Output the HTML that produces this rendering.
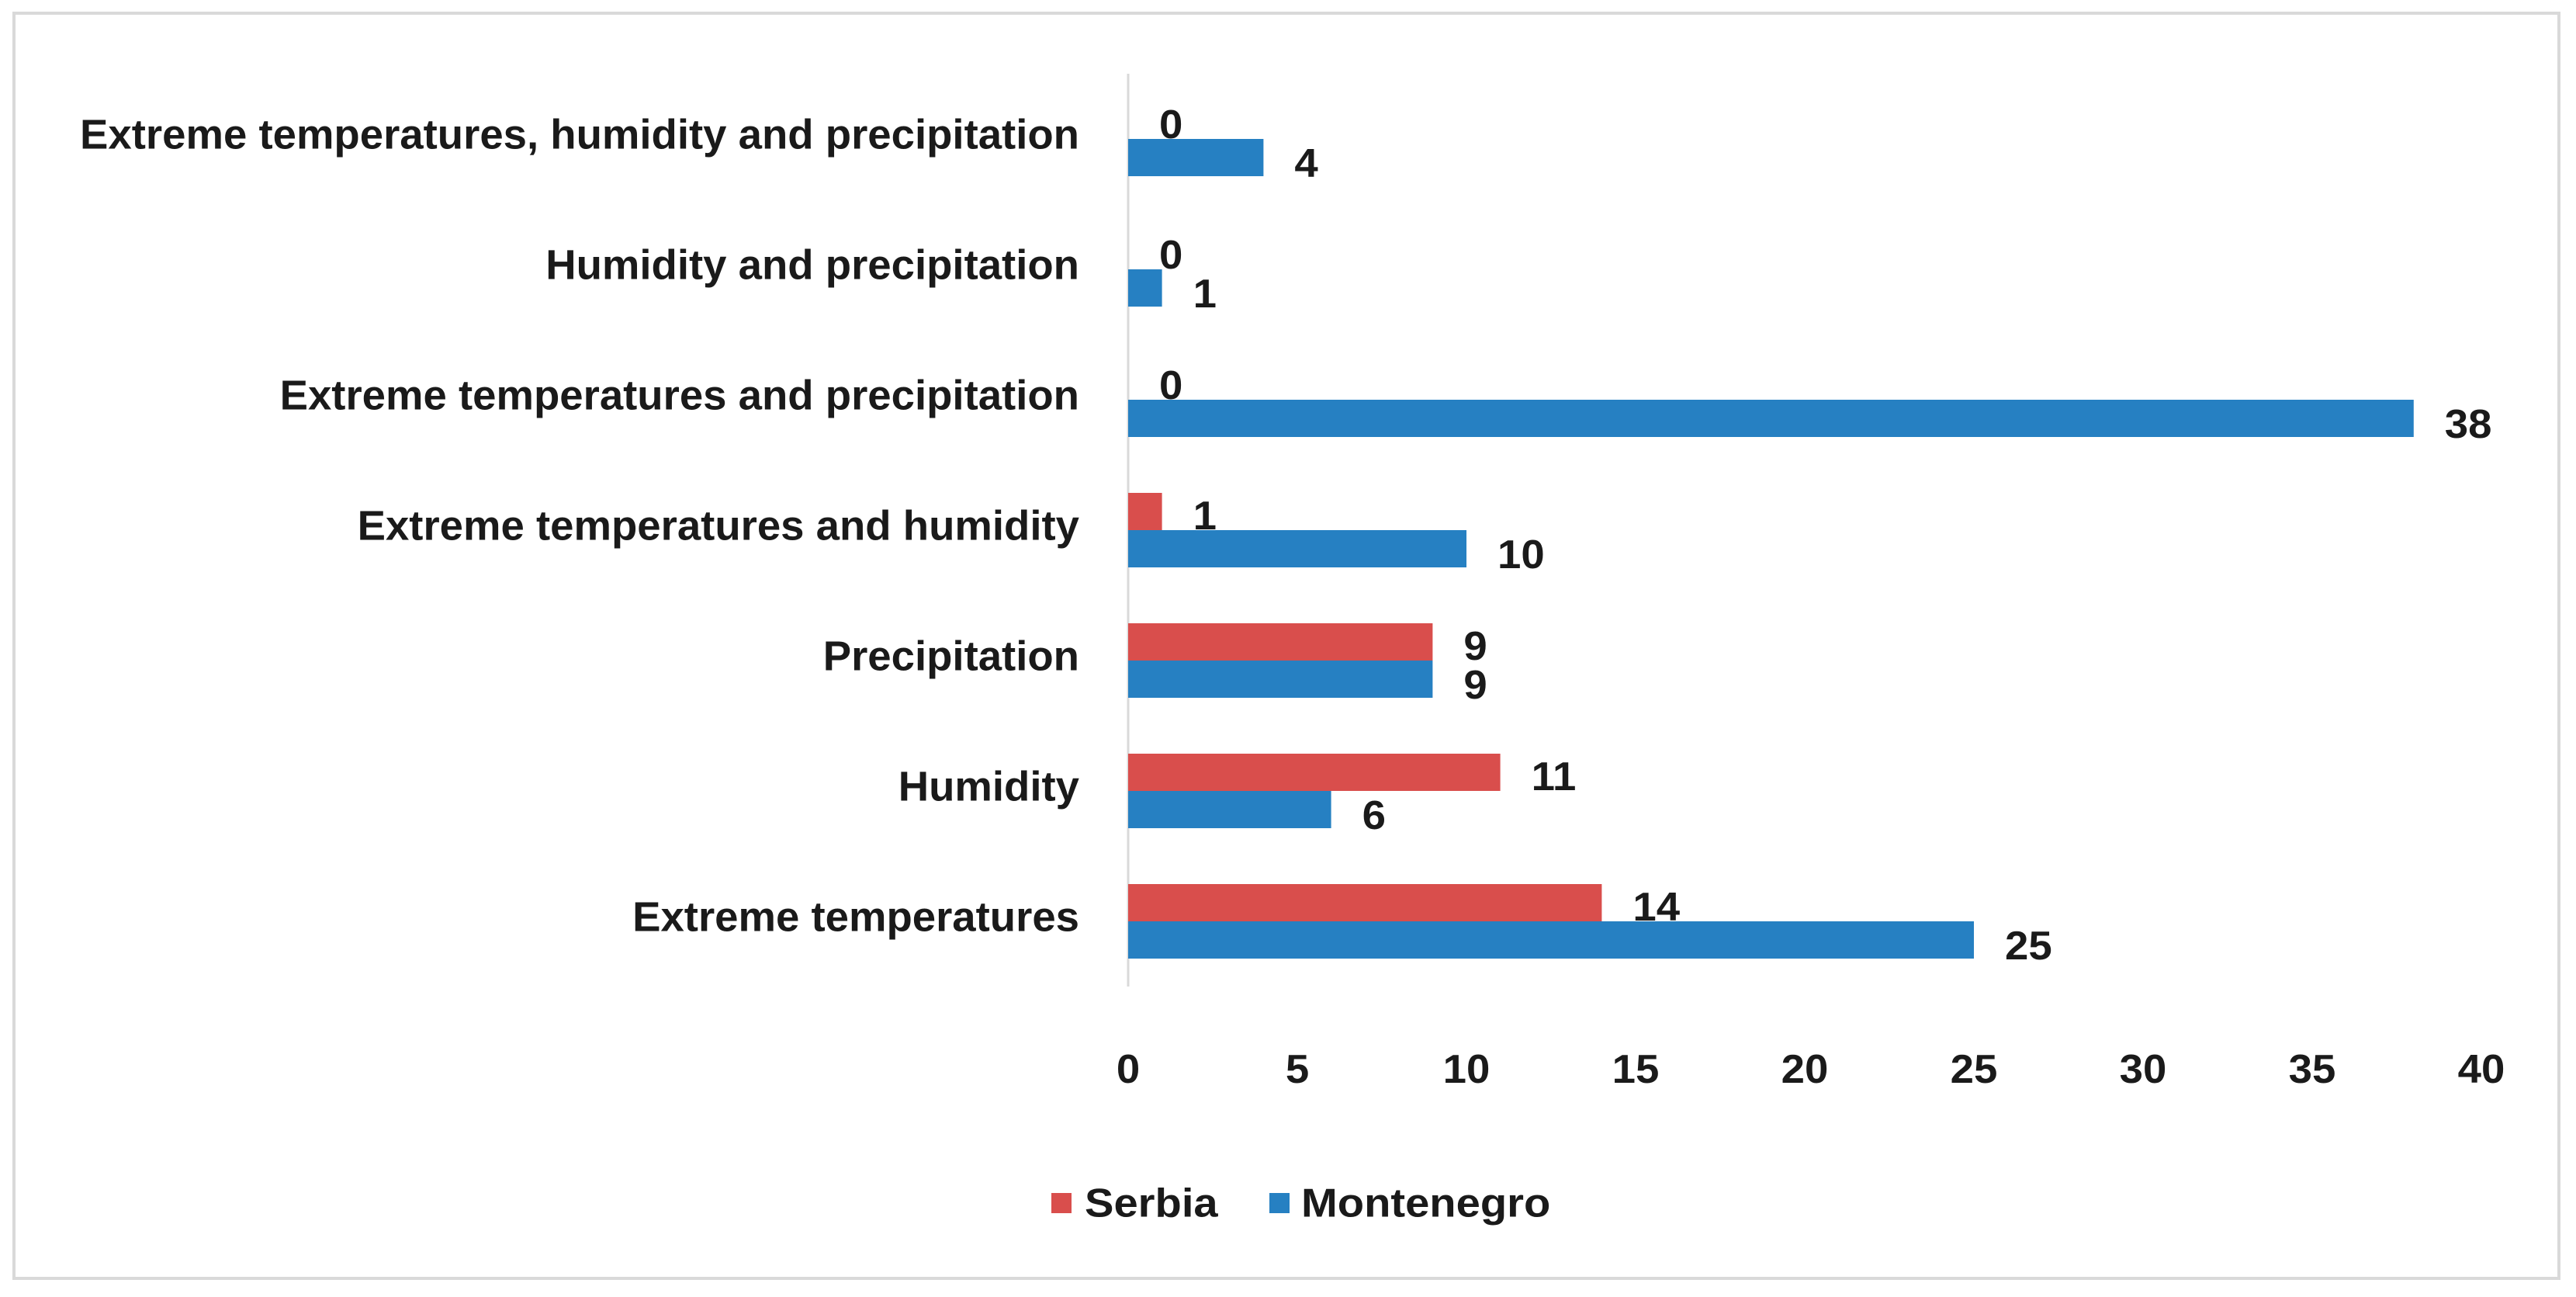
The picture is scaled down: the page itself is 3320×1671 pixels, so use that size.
<!DOCTYPE html>
<html><head><meta charset="utf-8"><style>
html,body{margin:0;padding:0;background:#fff}
svg{display:block}
text{font-family:"Liberation Sans Narrow","Liberation Sans",sans-serif;font-weight:bold;fill:#1a1a1a}
</style></head><body>
<svg id="chart" width="3320" height="1671" viewBox="0 0 3320 1671">
<rect x="18" y="17" width="3280" height="1630" fill="#fff" stroke="#d9d9d9" stroke-width="4"/>
<g id="plot"></g>
</svg>
<script>
const categories = ["Extreme temperatures, humidity and precipitation","Humidity and precipitation","Extreme temperatures and precipitation","Extreme temperatures and humidity","Precipitation","Humidity","Extreme temperatures"];
const serbia = [0,0,0,1,9,11,14];
const montenegro = [4,1,38,10,9,6,25];
const xTicks = [0,5,10,15,20,25,30,35,40];
const seriesNames = ["Serbia","Montenegro"];

const NS="http://www.w3.org/2000/svg";
const g=document.getElementById('plot');
const x0=1454, x1=3198, xMax=40, yTop=95, band=168, barH=48;
const sx=v=>x0+(v/xMax)*(x1-x0);
const colors=["#D94E4C","#2680C2"];
function mk(t,a){const e=document.createElementNS(NS,t);for(const k in a)e.setAttribute(k,a[k]);g.appendChild(e);return e;}
function txt(s,x,y,size,anchor,sc){const e=mk('text',{transform:`translate(${x},${y}) scale(${sc},1)`,'font-size':size,'text-anchor':anchor,'dominant-baseline':'central'});e.textContent=s;return e;}

const ax=mk('line',{x1:x0,y1:yTop,x2:x0,y2:yTop+band*categories.length,stroke:'#d9d9d9','stroke-width':3});



categories.forEach((c,i)=>{
  const cy=yTop+band*i+band/2;
  const l=txt(c,1391,cy-6,54,'end',1.01);
  
  
  [serbia[i],montenegro[i]].forEach((v,s)=>{
    const y=s===0?cy-barH:cy;
    if(v>0){
      const r=mk('rect',{x:x0,y:y,width:sx(v)-x0,height:barH,fill:colors[s]});
      
      
    }
    const t=txt(String(v),sx(v)+40,s===0?y+30:y+32,52,'start',1.05);
    
    
  });
});

xTicks.forEach(v=>{
  const t=txt(String(v),sx(v),1378,52,'middle',1.05);
  
  
});

const lg=[[1355,1398],[1636,1677]];
seriesNames.forEach((n,i)=>{
  const r=mk('rect',{x:lg[i][0],y:1537,width:26,height:26,fill:colors[i]});
  
  
  const t=txt(n,lg[i][1],1550,52,'start',1.08);
  
  
});
</script>
</body></html>
